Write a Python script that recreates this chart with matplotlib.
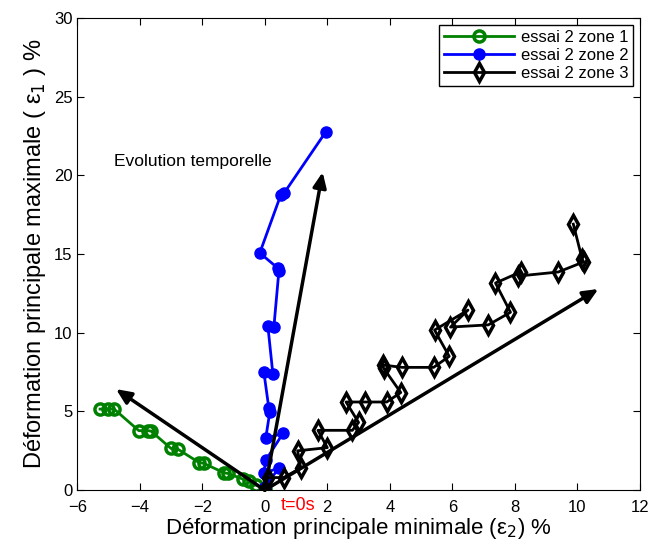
import numpy as np
import matplotlib.pyplot as plt

plt.rcParams['font.family'] = ['Liberation Sans', 'DejaVu Sans']

# zone 1 (green)
x1 = [0.0, -0.29, -0.5, -0.7, -1.18, -1.3, -1.95, -2.1, -2.78, -3.0, -3.64, -3.74, -4.03, -4.82, -5.02, -5.27]
y1 = [0.1, 0.32, 0.57, 0.7, 1.06, 1.1, 1.7, 1.75, 2.6, 2.65, 3.75, 3.78, 3.78, 5.15, 5.15, 5.15]

# zone 2 (blue)
x2 = [0.0, 0.0, 0.45, -0.03, 0.03, 0.58, 0.03, 0.16, 0.13, -0.03, 0.26, 0.1, 0.29, 0.45, 0.42, -0.16, 0.51, 0.61, 1.95]
y2 = [0.0, 0.2, 1.4, 1.08, 1.9, 3.6, 3.3, 4.96, 5.2, 7.5, 7.35, 10.4, 10.35, 13.9, 14.1, 15.07, 18.75, 18.85, 22.76]

# zone 3 (black)
x3 = [0.0, 0.1, 0.6, 1.15, 1.05, 2.0, 1.7, 2.8, 3.0, 2.6, 3.2, 3.9, 4.35, 3.8, 3.77, 4.4, 5.4, 5.9, 5.43, 6.5, 5.94, 7.15, 7.86, 7.38, 8.18, 8.1, 9.39, 10.2, 10.15, 9.87]
y3 = [0.0, 0.8, 0.8, 1.4, 2.5, 2.7, 3.8, 3.8, 4.3, 5.6, 5.6, 5.6, 6.2, 7.75, 7.95, 7.8, 7.8, 8.5, 10.17, 11.44, 10.36, 10.5, 11.3, 13.16, 13.86, 13.6, 13.86, 14.5, 14.7, 16.9]

# arrow tips (all from origin)
arrow_x = [-4.76, 1.85, 10.67]
arrow_y = [6.42, 20.2, 12.78]

fig = plt.figure(figsize=(6.49, 5.44), dpi=100)
ax = fig.add_axes([0.119, 0.099, 0.867, 0.868])

ax.plot(x1, y1, '-o', color='#008000', lw=2, ms=8, mfc='none', mew=2.5, label='essai 2 zone 1')
ax.plot(x2, y2, '-o', color='#0000ff', lw=2, ms=8, mfc='#0000ff', mew=1, label='essai 2 zone 2')
ax.plot(x3, y3, '-d', color='black', lw=2, ms=9, mfc='none', mew=2.5, label='essai 2 zone 3')

for ax_, ay_ in zip(arrow_x, arrow_y):
    ax.annotate('', xy=(ax_, ay_), xytext=(0, 0),
                arrowprops=dict(arrowstyle='-|>,head_length=0.9,head_width=0.4',
                                color='black', lw=2.5, shrinkA=0, shrinkB=0))

ax.text(-4.82, 20.85, 'Evolution temporelle', fontsize=12.5, va='center', ha='left')
ax.text(0.5, -1.0, 't=0s', color='red', fontsize=13, va='center', ha='left', clip_on=False)

ax.set_xlim(-6, 12)
ax.set_ylim(0, 30)
ax.set_xticks(np.arange(-6, 13, 2))
ax.set_yticks(np.arange(0, 31, 5))
ax.set_xticklabels(['\u22126', '\u22124', '\u22122', '0', '2', '4', '6', '8', '10', '12'])
ax.tick_params(direction='in', top=True, right=True, labelsize=12, length=5)
ax.tick_params(axis='x', pad=7)

ax.set_xlabel('Déformation principale minimale (ε$_2$) %', fontsize=16, labelpad=1)
ax.set_ylabel('Déformation principale maximale ( ε$_1$ ) %', fontsize=17, labelpad=4)

leg = ax.legend(loc='upper right', fontsize=12, fancybox=False, edgecolor='black',
                framealpha=1, borderaxespad=0.4, handlelength=4.2, labelspacing=0.2,
                borderpad=0.3, handletextpad=0.4)
leg.get_frame().set_linewidth(1)

plt.savefig('out.png', dpi=100)
